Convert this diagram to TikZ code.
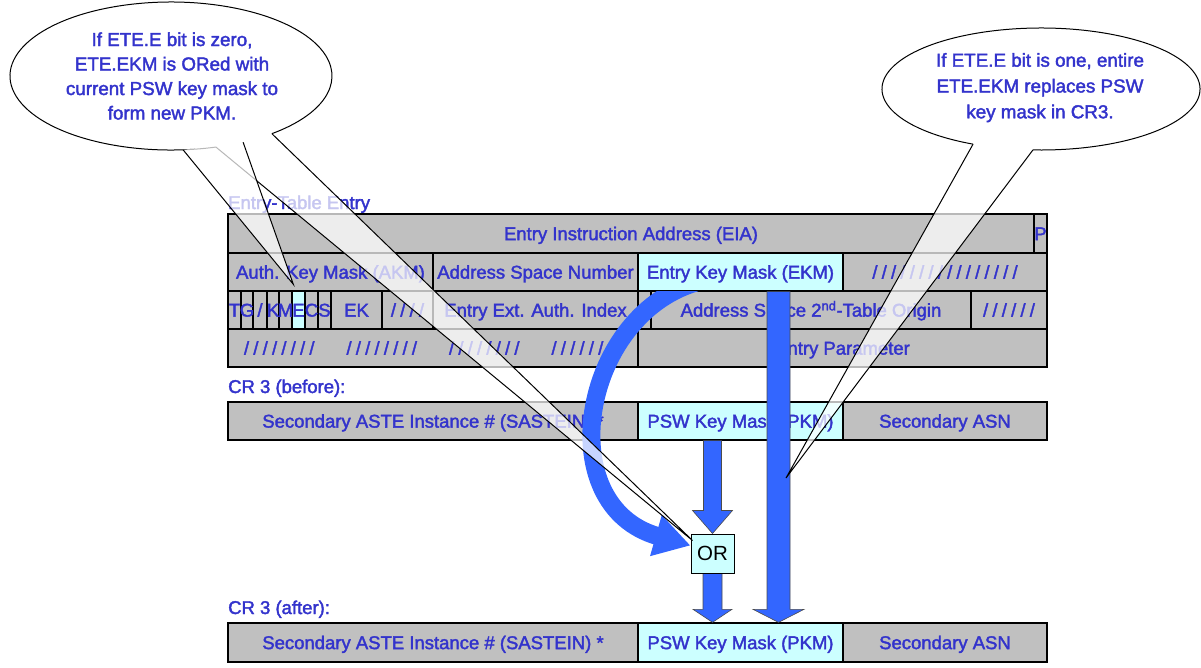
\documentclass[tikz,border=0pt]{standalone}
\usepackage{fontspec}
\setmainfont{Liberation Sans}
\newfontfamily\heavysans{Liberation Sans}[FakeBold=2]
\usetikzlibrary{arrows.meta,calc}

\definecolor{txtblue}{RGB}{51,51,204}
\definecolor{cellgray}{RGB}{192,192,192}
\definecolor{keycyan}{RGB}{204,255,255}
\definecolor{flowblue}{RGB}{51,102,255}

\newcommand\tabfont{\heavysans\fontsize{18.5}{22}\selectfont}
\newcommand\notefont{\heavysans\fontsize{18.8}{25}\selectfont}
\newcommand\slashes[1]{/\foreach \k in {2,...,#1}{\kern4.2pt/}}

% one register cell: name, left, top, right, bottom, fill, text
\newcommand\regcell[7]{%
  \node[cell, fill=#6, minimum width={#4-#2}, minimum height={#5-#3}]
    (#1) at ({(#2+#4)/2},{(#3+#5)/2}) {#7};}

% vertical block arrow: from, to, half shaft width, half head width, head length
\newcommand\blockdown[5]{%
  \path[blockarrow] let \p1=(#1), \p2=(#2) in
    (\x2-#3pt,\y1) -- (\x2-#3pt,\y2+#5pt) -- (\x2-#4pt,\y2+#5pt) -- (\x2,\y2)
    -- (\x2+#4pt,\y2+#5pt) -- (\x2+#3pt,\y2+#5pt) -- (\x2+#3pt,\y1) -- cycle;}

\begin{document}
\begin{tikzpicture}[x=1pt,y=-1pt,
  cell/.style={draw=black, line width=1.3pt, inner sep=0pt, text=txtblue,
    font=\tabfont, text height=13.2pt, text depth=0pt},
  celltext/.style={inner sep=0pt, text=txtblue, font=\tabfont,
    text height=13.2pt, text depth=0pt},
  lbl/.style={inner sep=0pt, text=txtblue, font=\tabfont, anchor=base west},
  note/.style={inner sep=0pt, text=txtblue, font=\notefont, anchor=base},
  orbox/.style={draw=black, line width=1pt, fill=keycyan, inner sep=0pt,
    minimum width=43, minimum height=39, font=\fontsize{20.5}{24}\selectfont,
    text height=14.7pt, text depth=0pt},
  blockarrow/.style={fill=flowblue, draw=black!70, line width=0.6pt},
  bendarrow/.style={draw=flowblue, line width=18pt,
    -{Triangle[width=40pt,length=36pt]}},
  callline/.style={draw=black, line width=1pt},
  tailfill/.style={fill=white, fill opacity=0.72}]

\useasboundingbox (0,0) rectangle (1201,667);

% ---------- entry-table entry ----------
\node[lbl] (etelbl) at (228,209) {Entry-Table Entry};

\regcell{eia}{228}{214}{1034}{253}{cellgray}{Entry Instruction Address (EIA)}
\regcell{pbit}{1034}{214}{1047}{253}{cellgray}{P}

\regcell{akm}{228}{253}{433}{291}{cellgray}{Auth. Key Mask (AKM)}
\regcell{asn}{433}{253}{638}{291}{cellgray}{Address Space Number}
\regcell{ekm}{638}{253}{843}{291}{keycyan}{Entry Key Mask (EKM)}
\regcell{rsva}{843}{253}{1047}{291}{cellgray}{\slashes{16}}

\regcell{tbit}{228}{291}{241}{329}{cellgray}{}
\regcell{gbit}{241}{291}{253}{329}{cellgray}{}
\regcell{slbit}{253}{291}{267}{329}{cellgray}{}
\regcell{kbit}{267}{291}{279}{329}{cellgray}{}
\regcell{mbit}{279}{291}{292}{329}{cellgray}{}
\regcell{ebit}{292}{291}{305}{329}{keycyan}{}
\regcell{cbit}{305}{291}{318}{329}{cellgray}{}
\regcell{sbit}{318}{291}{331}{329}{cellgray}{}
\foreach \n/\l in {tbit/T,gbit/G,kbit/K,mbit/M,ebit/E,cbit/C,sbit/S}
  \node[celltext] at (\n) {\l};
\node[celltext] at (slbit) {/};
\regcell{ek}{331}{291}{382}{329}{cellgray}{EK}
\regcell{rsvb}{382}{291}{433}{329}{cellgray}{\slashes{4}}
\regcell{eeai}{433}{291}{638}{329}{cellgray}{Entry Ext. Auth. Index}
\regcell{rsvc}{638}{291}{651}{329}{cellgray}{}
\regcell{asto}{651}{291}{971}{329}{cellgray}{Address Space 2\textsuperscript{nd}-Table Origin}
\regcell{rsvd}{971}{291}{1047}{329}{cellgray}{\slashes{6}}

\regcell{rsve}{228}{329}{638}{367}{cellgray}{}
\foreach \cx in {279.25,381.75,484.25,586.75}
  \node[celltext] at (\cx,348) {\slashes{8}};
\regcell{eparm}{638}{329}{1047}{367}{cellgray}{Entry Parameter}

% ---------- CR 3 before ----------
\node[lbl] (crblbl) at (228,393) {CR 3 (before):};
\regcell{sasb}{228}{402}{638}{440}{cellgray}{Secondary ASTE Instance \# (SASTEIN) *}
\regcell{pkmb}{638}{402}{843}{440}{keycyan}{PSW Key Mask (PKM)}
\regcell{ssnb}{843}{402}{1047}{440}{cellgray}{Secondary ASN}

% ---------- CR 3 after ----------
\node[lbl] (cralbl) at (228,614) {CR 3 (after):};
\regcell{sasa}{228}{623}{638}{662}{cellgray}{Secondary ASTE Instance \# (SASTEIN) *}
\regcell{pkma}{638}{623}{843}{662}{keycyan}{PSW Key Mask (PKM)}
\regcell{ssna}{843}{623}{1047}{662}{cellgray}{Secondary ASN}

% ---------- OR box ----------
\node[orbox] (or) at (712.5,553.5) {OR};

% ---------- data flow ----------
\begin{scope}
  \clip (ekm.south west) ++(-450,0) rectangle ++(1000,400);
  \draw[bendarrow] ($(ekm.south west)+(58,-9)$)
    .. controls +(-115,35) and +(-140,-40) .. ($(or.west)+(0,-8)$);
\end{scope}
\blockdown{pkmb.south}{or.north}{9}{20}{23}
\blockdown{or.south}{or.south |- pkma.north}{9.5}{19.5}{13}
\blockdown{ekm.south}{$(pkma.north)+(38,0)$}{11.5}{25.5}{13}
\node[orbox] at (or) {OR};

% ---------- left callout ----------
\coordinate (lc) at (171,76);
\coordinate (tipE) at ($(ebit.north west)+(2,-6)$);
\coordinate (tipOR) at ($(or.north west)+(2,7)$);
\fill[white] (lc) ellipse [x radius=161, y radius=74];
\draw[callline] ($(lc)+(73.8:161 and 74)$)
  arc [start angle=73.8, end angle=411.2, x radius=161, y radius=74];
\path[tailfill] ($(lc)+(73.8:161 and 74)$) -- (tipOR) -- ($(lc)+(51.2:161 and 74)$) -- cycle;
\draw[callline] ($(lc)+(73.8:161 and 74)$) -- (tipOR) -- ($(lc)+(51.2:161 and 74)$);
\path[tailfill] ($(lc)+(85.7:161 and 74)$) -- (tipE) -- ($(lc)+(63.4:161 and 74)$) -- cycle;
\draw[callline] ($(lc)+(85.7:161 and 74)$) -- (tipE) -- ($(lc)+(63.4:161 and 74)$);
\node[note] (ln1) at (172,46) {If ETE.E bit is zero,};
\node[note] (ln2) at (172,70.5) {ETE.EKM is ORed with};
\node[note] (ln3) at (172,95) {current PSW key mask to};
\node[note] (ln4) at (172,119.5) {form new PKM.};

% ---------- right callout ----------
\coordinate (rc) at (1041,89);
\coordinate (tipR) at (786,478);
\fill[white] (rc) ellipse [x radius=159, y radius=61];
\draw[callline] ($(rc)+(115.3:159 and 61)$)
  arc [start angle=115.3, end angle=452.9, x radius=159, y radius=61];
\path[tailfill] ($(rc)+(115.3:159 and 61)$) -- (tipR) -- ($(rc)+(92.9:159 and 61)$) -- cycle;
\draw[callline] ($(rc)+(115.3:159 and 61)$) -- (tipR) -- ($(rc)+(92.9:159 and 61)$);
\node[note] (rn1) at (1040,66.7) {If ETE.E bit is one, entire};
\node[note] (rn2) at (1040,92.5) {ETE.EKM replaces PSW};
\node[note] (rn3) at (1040,118.3) {key mask in CR3.};

\end{tikzpicture}
\end{document}
